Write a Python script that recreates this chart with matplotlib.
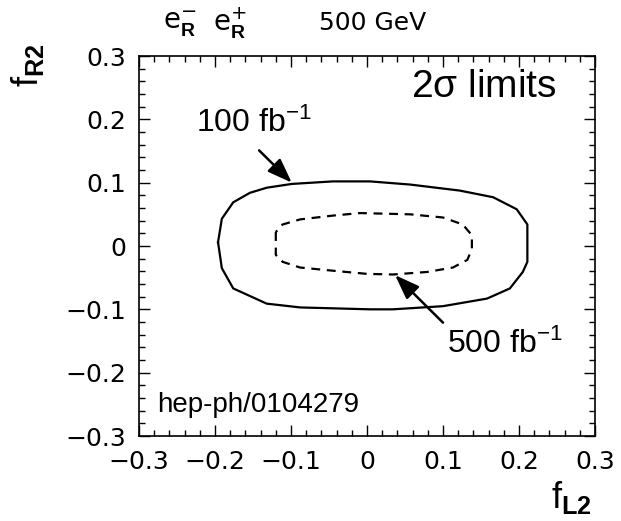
import matplotlib
matplotlib.use("Agg")
import matplotlib.pyplot as plt
from matplotlib.ticker import MultipleLocator

plt.rcParams['font.family'] = ['Liberation Sans', 'DejaVu Sans']
plt.rcParams['mathtext.fontset'] = 'custom'
plt.rcParams['mathtext.rm'] = 'Liberation Sans'
plt.rcParams['mathtext.it'] = 'Liberation Sans'
plt.rcParams['mathtext.bf'] = 'Liberation Sans:bold'

# 100 fb^-1 contour (solid)
outer_x = [-0.196, -0.191, -0.176, -0.154, -0.132, -0.099, -0.045, 0.004, 0.057, 0.122,
           0.166, 0.197, 0.211, 0.211, 0.205, 0.188, 0.158, 0.100, 0.034, 0.004,
           -0.088, -0.132, -0.176, -0.191, -0.196]
outer_y = [0.006, 0.043, 0.069, 0.084, 0.092, 0.098, 0.102, 0.102, 0.097, 0.0875,
           0.077, 0.058, 0.034, -0.025, -0.041, -0.067, -0.083, -0.095, -0.100, -0.100,
           -0.097, -0.091, -0.067, -0.035, 0.006]

# 500 fb^-1 contour (dashed)
inner_x = [-0.120, -0.120, -0.111, -0.088, -0.045, 0.0, 0.034, 0.079, 0.113, 0.132,
           0.138, 0.138, 0.126, 0.100, 0.057, -0.009, -0.045, -0.088, -0.111, -0.120]
inner_y = [0.022, -0.014, -0.025, -0.034, -0.039, -0.044, -0.045, -0.041, -0.034, -0.022,
           -0.005, 0.017, 0.034, 0.045, 0.050, 0.052, 0.048, 0.042, 0.034, 0.022]

ticks = [-0.3, -0.2, -0.1, 0, 0.1, 0.2, 0.3]
tick_labels = ['\u22120.3', '\u22120.2', '\u22120.1', '0', '0.1', '0.2', '0.3']

fig = plt.figure(figsize=(6.21, 5.21), dpi=100)
ax = fig.add_axes([139/621, 1-436/521, 456/621, 380/521])

ax.plot(outer_x, outer_y, color='black', lw=1.6, solid_joinstyle='round')
ax.plot(inner_x, inner_y, color='black', lw=1.6, ls=(0, (4, 3)))

ax.set_xlim(-0.3, 0.3)
ax.set_ylim(-0.3, 0.3)
ax.set_xticks(ticks)
ax.set_xticklabels(tick_labels, family='DejaVu Sans')
ax.set_yticks(ticks)
ax.set_yticklabels(tick_labels, family='DejaVu Sans')
ax.xaxis.set_minor_locator(MultipleLocator(0.02))
ax.yaxis.set_minor_locator(MultipleLocator(0.02))
ax.tick_params(which='both', direction='in', top=True, right=True, labelsize=18, width=1)
ax.tick_params(which='major', length=8)
ax.tick_params(which='minor', length=4)
ax.tick_params(axis='x', which='major', pad=10)
ax.tick_params(axis='y', which='major', pad=9)
for s in ax.spines.values():
    s.set_linewidth(1.2)

ax.text(0.249, 0.235, r'2$\sigma$ limits', fontsize=28, ha='right', va='baseline')
ax.text(-0.149, 0.194, r'100 fb$^{\mathregular{-1}}$', fontsize=23, ha='center', va='center')
ax.text(0.182, -0.156, r'500 fb$^{\mathregular{-1}}$', fontsize=23, ha='center', va='center')
ax.text(-0.276, -0.262, 'hep-ph/0104279', fontsize=20, ha='left', va='baseline')

arrow = dict(arrowstyle='-|>,head_length=1.5,head_width=0.55', color='black', lw=1.8,
             shrinkA=0, shrinkB=0)
ax.annotate('', xy=(-0.099, 0.100), xytext=(-0.142, 0.151), arrowprops=arrow)
ax.annotate('', xy=(0.037, -0.046), xytext=(0.100, -0.121), arrowprops=arrow)

fig.text(163/621, 0.955, r'$\mathregular{e^{-}_{\mathbf{R}}}$',
         fontsize=20, ha='left', va='center', family='DejaVu Sans')
fig.text(213/621, 0.955, r'$\mathregular{e^{+}_{\mathbf{R}}}$',
         fontsize=20, ha='left', va='center', family='DejaVu Sans')
fig.text(319/621, 0.955, '500 GeV', fontsize=18, ha='left', va='center',
         family='DejaVu Sans')
fig.text(28/621, 1-65/521, r'$\mathregular{f_{\mathbf{R2}}}$', fontsize=26, rotation=90,
         ha='center', va='center')
fig.text(571/621, 1-497/521, r'$\mathregular{f_{\mathbf{L2}}}$', fontsize=26,
         ha='center', va='center')

fig.savefig('out.png', dpi=100)
